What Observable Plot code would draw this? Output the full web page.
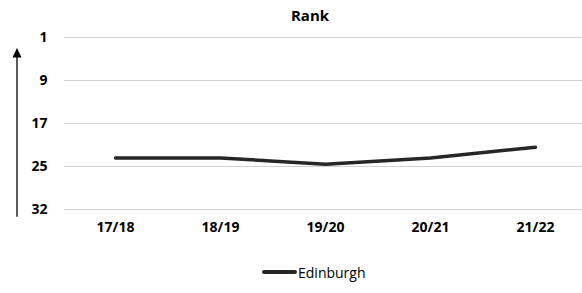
<!DOCTYPE html>
<html>
<head>
<meta charset="utf-8">
<script src="https://cdn.jsdelivr.net/npm/d3@7"></script>
<script src="https://cdn.jsdelivr.net/npm/@observablehq/plot@0.6"></script>
<style>
  body { margin: 0; background: #fff; font-family: "Open Sans", "Liberation Sans", sans-serif; }
  #wrap { position: relative; width: 582px; height: 293px; overflow: hidden; }
  #title { position: absolute; left: 0; top: 0; width: 582px; height: 30px; line-height: 30px;
           text-align: center; padding-left: 38px; box-sizing: border-box; font-size: 15px; font-weight: bold; color: #000; }
  #chart { position: absolute; left: 0; top: 30px; }
  #legend { position: absolute; left: 262px; top: 262px; height: 20px; display: flex; align-items: center;
            font-size: 14px; color: #000; }
  #legend .sw { display: inline-block; width: 35px; height: 4px; background: #262626; border-radius: 2px; margin-right: 1px; }
</style>
</head>
<body>
<div id="wrap">
  <div id="title">Rank</div>
  <div id="chart"></div>
  <div id="legend"><span class="sw"></span><span>Edinburgh</span></div>
</div>
<script>
const seasons = ["17/18", "18/19", "19/20", "20/21", "21/22"];
const edinburghRank = [23.4, 23.4, 24.6, 23.4, 21.4];
const yTicks = [1, 9, 17, 25, 33];
const yTickLabels = ["1", "9", "17", "25", "32"];

const data = seasons.map((s, i) => ({season: s, rank: edinburghRank[i]}));

const plot = Plot.plot({
  width: 582,
  height: 220,
  marginTop: 7,
  marginBottom: 41,
  marginLeft: 64,
  marginRight: 0,
  style: {fontFamily: "'Open Sans', 'Liberation Sans', sans-serif", background: "#fff", overflow: "visible"},
  x: {type: "point", domain: seasons, range: [115, 535], padding: 0},
  y: {domain: [1, 33], reverse: true},
  marks: [
    Plot.ruleY(yTicks, {stroke: "#d0d0d0", strokeWidth: 1}),
    Plot.axisY({ticks: yTicks, tickSize: 0, tickPadding: 17, fontSize: 14, fontWeight: "bold", fill: "#000",
                tickFormat: (d) => yTickLabels[yTicks.indexOf(d)], label: null}),
    Plot.axisX({tickSize: 0, tickPadding: 13, fontSize: 14, fontWeight: "bold", fill: "#000", label: null}),
    Plot.line(data, {x: "season", y: "rank", stroke: "#262626", strokeWidth: 3.5, strokeLinecap: "round", strokeLinejoin: "round"})
  ]
});

document.getElementById("chart").appendChild(plot);

// decorative up-arrow on the left
const svg = d3.select(plot);
const g = svg.append("g").attr("fill", "#000").attr("stroke", "#000");
g.append("line").attr("x1", 17).attr("x2", 17).attr("y1", 186.7).attr("y2", 26).attr("stroke-width", 1.3);
g.append("path").attr("d", "M12.5,27.5L21.5,27.5L17,18Z").attr("stroke", "none");
</script>
</body>
</html>
